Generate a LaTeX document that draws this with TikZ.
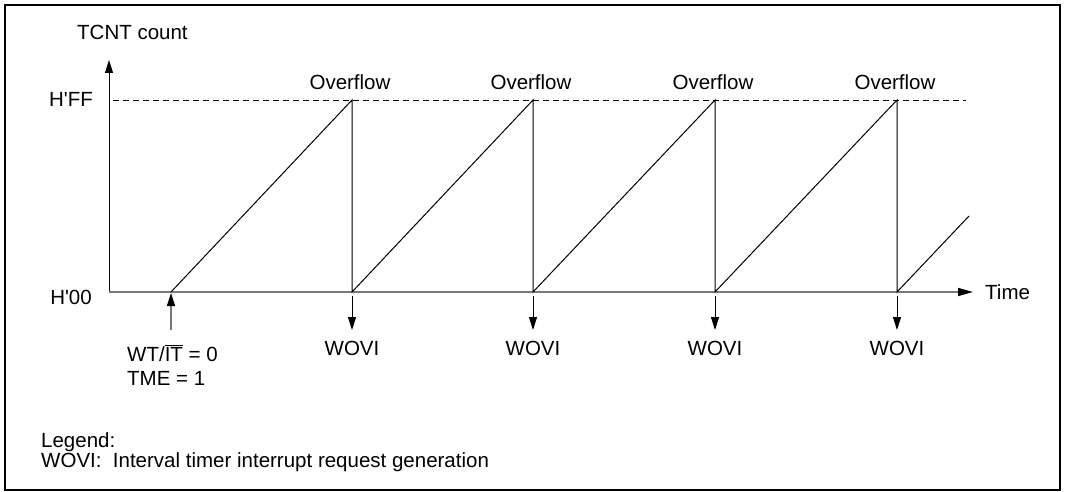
\documentclass[tikz,border=0pt]{standalone}
\usepackage{fontspec}
\setmainfont{Liberation Sans}
\usetikzlibrary{arrows.meta, positioning}
\definecolor{axisgray}{RGB}{120,120,120}

\begin{document}
\begin{tikzpicture}[x=1pt, y=-1pt, font=\fontsize{20.5}{24}\selectfont,
    txt/.style={inner sep=0pt},
    ramp/.style={line width=1pt, line join=miter},
    irq/.style={line width=1pt, -{Triangle[length=13pt, width=8pt]}}]
  \useasboundingbox (0,0) rectangle (1065,492);
  \draw[line width=2pt] (5,5) rectangle (1060,490);

  % axes
  \coordinate (o) at (109,292);
  \coordinate (ytop) at (109,60);
  \coordinate (xend) at (973,292);
  \draw[line width=1pt, -{Triangle[length=13pt, width=8pt]}] (o) -- (ytop);
  \draw[axisgray, line width=1.5pt, -{Triangle[black, length=15pt, width=8pt]}] (o) -- (xend);
  \node[txt, anchor=base west] (ylab) at (77,40) {TCNT count};
  \node[txt, anchor=base west] (tlab) at (985,299) {Time};
  \node[txt, anchor=base east] (hff) at (93,107) {H\textquotesingle FF};
  \node[txt, anchor=base east] (h00) at (92,304) {H\textquotesingle 00};

  % H'FF level
  \coordinate (ffl) at (113,100);
  \coordinate (ffr) at (966,100);
  \draw[dashed, dash pattern=on 6pt off 4pt, line width=0.8pt] (ffl) -- (ffr);

  % count ramps
  \coordinate (s0) at (171,292);
  \coordinate (p1) at (352,100); \coordinate (b1) at (352,292);
  \coordinate (p2) at (533,100); \coordinate (b2) at (533,292);
  \coordinate (p3) at (715,100); \coordinate (b3) at (715,292);
  \coordinate (p4) at (897,100); \coordinate (b4) at (897,292);
  \coordinate (r5) at (969,216);
  \draw[ramp] (s0) -- (p1) -- (b1) -- (p2) -- (b2) -- (p3) -- (b3) -- (p4) -- (b4) -- (r5);

  \node[txt, anchor=base] (ov1) at (350,90) {Overflow};
  \node[txt, anchor=base] (ov2) at (531,90) {Overflow};
  \node[txt, anchor=base] (ov3) at (713,90) {Overflow};
  \node[txt, anchor=base] (ov4) at (895,90) {Overflow};

  % start trigger
  \coordinate (a0) at (171,330);
  \draw[axisgray, line width=1.5pt, shorten >=1pt, -{Triangle[black, length=13pt, width=8pt]}] (a0) -- (s0);
  \node[txt, anchor=base west] (wt) at (127,361) {WT/$\overline{\mbox{IT}}$ = 0};
  \node[txt, anchor=base west] (tme) at (127,385) {TME = 1};

  % WOVI requests
  \coordinate (a1) at (352,330);
  \coordinate (a2) at (533,330);
  \coordinate (a3) at (715,330);
  \coordinate (a4) at (897,330);
  \draw[irq, shorten <=4pt] (b1) -- (a1);
  \draw[irq, shorten <=4pt] (b2) -- (a2);
  \draw[irq, shorten <=4pt] (b3) -- (a3);
  \draw[irq, shorten <=4pt] (b4) -- (a4);
  \node[txt, anchor=base] (w1) at (352,355) {WOVI};
  \node[txt, anchor=base] (w2) at (533,355) {WOVI};
  \node[txt, anchor=base] (w3) at (715,355) {WOVI};
  \node[txt, anchor=base] (w4) at (897,355) {WOVI};

  % legend
  \node[txt, anchor=base west] (leg) at (41,447) {Legend:};
  \node[txt, anchor=base west] (legw) at (41,467) {WOVI:\ \ Interval timer interrupt request generation};
\end{tikzpicture}
\end{document}
